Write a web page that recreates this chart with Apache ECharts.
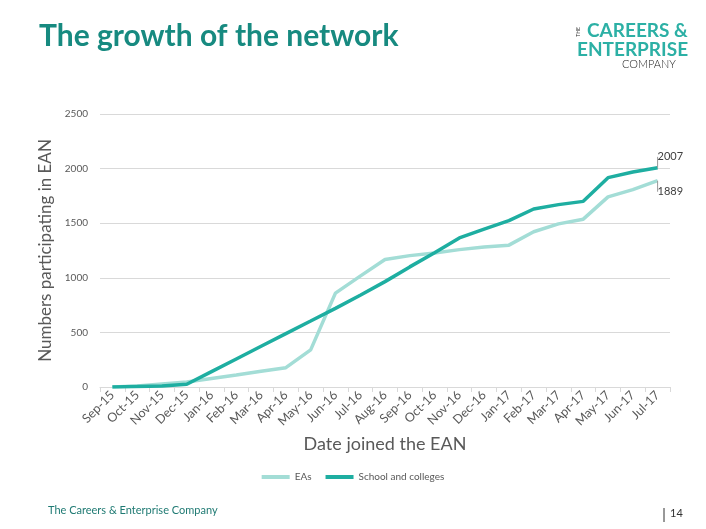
<!DOCTYPE html>
<html><head><meta charset="utf-8">
<script src="https://cdn.jsdelivr.net/npm/echarts@6/dist/echarts.min.js"></script>
<style>html,body{margin:0;padding:0;background:#fff}#c{width:706px;height:529px}</style>
</head><body><div id="c"></div>
<script>
const categories = ["Sep-15","Oct-15","Nov-15","Dec-15","Jan-16","Feb-16","Mar-16","Apr-16","May-16","Jun-16","Jul-16","Aug-16","Sep-16","Oct-16","Nov-16","Dec-16","Jan-17","Feb-17","Mar-17","Apr-17","May-17","Jun-17","Jul-17"];
const eas = [0,10,28,45,77,109,145,177,340,860,1015,1167,1203,1228,1258,1283,1299,1422,1494,1537,1741,1808,1889];
const schools = [0,5,10,25,141,257,373,489,604,720,840,965,1100,1230,1365,1445,1524,1630,1670,1700,1917,1969,2007];
const yTicks = [0,500,1000,1500,2000,2500];

const chart = echarts.init(document.getElementById('c'));
const labelFont = {fontFamily:'Lato', fontSize:11, color:'#404040'};
function withEnd(arr){
  return arr.map((v,i)=> i===arr.length-1 ? {value:v, label:{show:true, position:'right', distance:14, ...labelFont}} : v);
}
chart.setOption({
  animation:false,
  textStyle:{fontFamily:'Lato'},
  title:{text:'The growth of the network', left:34, top:16,
    textStyle:{fontFamily:'Lato', fontWeight:'bold', fontSize:30, color:'#178a80'}},
  legend:{bottom:42, left:'center', itemWidth:28, itemHeight:4, itemGap:14, icon:'rect',
    textStyle:{fontFamily:'Lato', fontSize:10, color:'#595959'}},
  grid:{left:100, right:36, top:114, bottom:142, containLabel:false},
  xAxis:{type:'category', data:categories, boundaryGap:true,
    name:'Date joined the EAN', nameLocation:'middle', nameGap:48,
    nameTextStyle:{fontFamily:'Lato', fontSize:18, color:'#595959'},
    axisLine:{lineStyle:{color:'#d9d9d9'}},
    axisTick:{show:true, alignWithLabel:false, lineStyle:{color:'#d9d9d9'}, length:5},
    axisLabel:{rotate:45, fontFamily:'Lato', fontSize:12.5, color:'#595959', margin:6, interval:0}},
  yAxis:{type:'value', min:yTicks[0], max:yTicks[yTicks.length-1], interval:500,
    name:'Numbers participating in EAN', nameLocation:'middle', nameGap:42,
    nameTextStyle:{fontFamily:'Lato', fontSize:17, color:'#595959'},
    axisLine:{show:false}, axisTick:{show:false},
    splitLine:{lineStyle:{color:'#d9d9d9'}},
    axisLabel:{fontFamily:'Lato', fontSize:10, color:'#595959', margin:12, formatter:(v)=>String(v)}},
  series:[
    {name:'EAs', type:'line', data:withEnd(eas), symbol:'circle', symbolSize:0, showSymbol:true,
      lineStyle:{width:3.5, color:'#a3ddd6'}, itemStyle:{color:'#a3ddd6'},
      labelLayout:{dx:-14, dy:11},
      labelLine:{show:true, lineStyle:{color:'#999', width:1}}},
    {name:'School and colleges', type:'line', data:withEnd(schools), symbol:'circle', symbolSize:0, showSymbol:true,
      lineStyle:{width:3.5, color:'#1eaea1'}, itemStyle:{color:'#1eaea1'},
      labelLayout:{dx:-14, dy:-11},
      labelLine:{show:true, lineStyle:{color:'#999', width:1}}}
  ],
  graphic:[
    {type:'text', left:576, top:27, rotation:Math.PI/2, style:{text:'THE', font:'5px Lato', fill:'#333'}},
    {type:'text', left:587, top:21, style:{text:'CAREERS &', font:'bold 19px Lato', fill:'#2cb0a5'}},
    {type:'text', left:577, top:40, style:{text:'ENTERPRISE', font:'bold 19px Lato', fill:'#2cb0a5'}},
    {type:'text', left:622, top:59, style:{text:'COMPANY', font:'300 11px Lato', fill:'#222', letterSpacing:1}},
    {type:'text', left:48, top:505, style:{text:'The Careers & Enterprise Company', font:'11px Lato', fill:'#1f7a73'}},
    {type:'line', shape:{x1:664, y1:508, x2:664, y2:522}, style:{stroke:'#333', lineWidth:1}},
    {type:'text', left:670, top:508, style:{text:'14', font:'11px Lato', fill:'#333'}}
  ]
});
</script></body></html>
